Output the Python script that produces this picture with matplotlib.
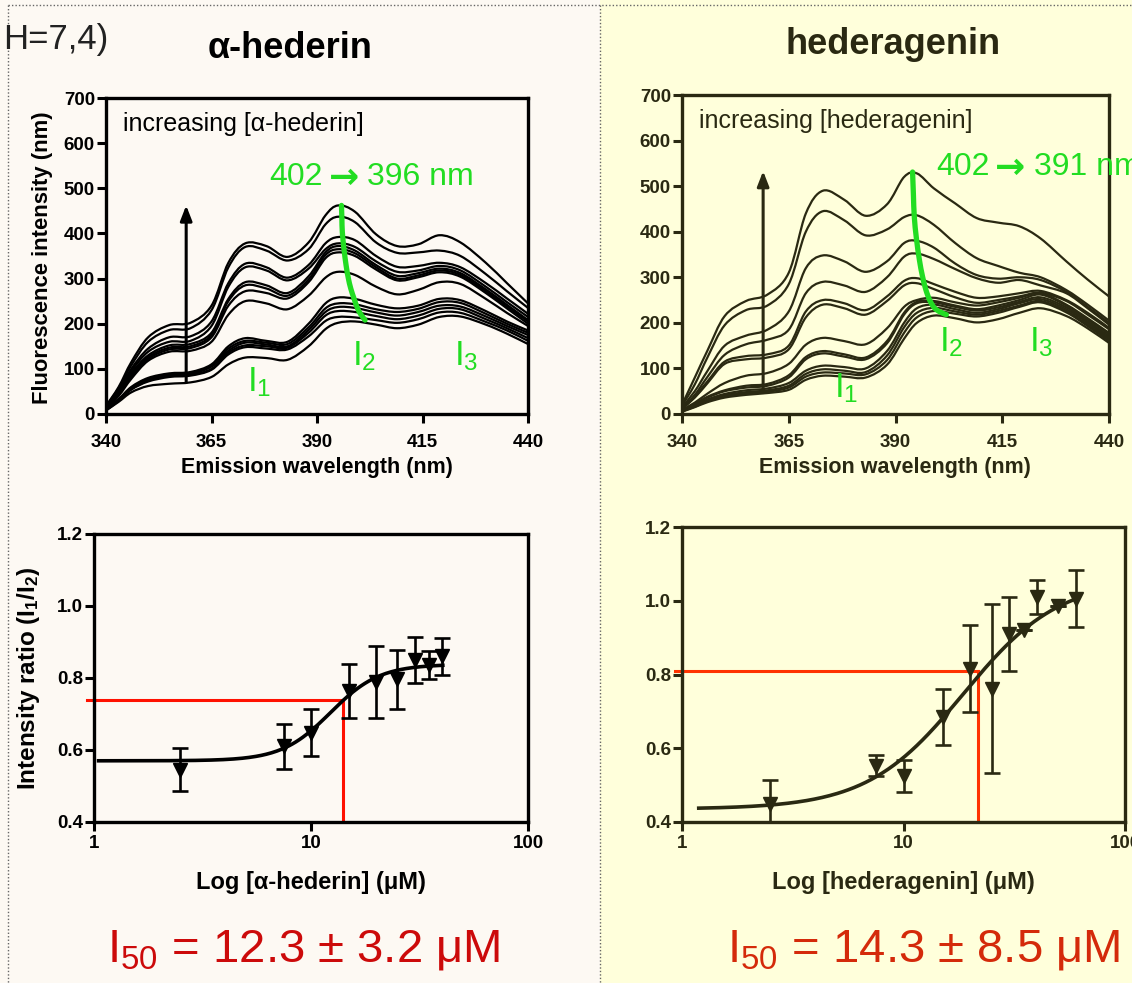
import numpy as np
import matplotlib
matplotlib.use("Agg")
import matplotlib.pyplot as plt
from matplotlib.patches import Rectangle, PathPatch
from matplotlib.lines import Line2D
from matplotlib.path import Path

plt.rcParams['font.family'] = ['Liberation Sans', 'DejaVu Sans']
plt.rcParams['mathtext.fontset'] = 'custom'
plt.rcParams['mathtext.rm'] = 'Liberation Sans'
plt.rcParams['mathtext.it'] = 'Liberation Sans:italic'
plt.rcParams['mathtext.bf'] = 'Liberation Sans:bold'

# ---------------------------------------------------------------- data
wavelength_nm = [340, 343, 346, 350, 355, 360, 365, 369, 373, 378, 383, 388,
                 392, 395, 399, 404, 409, 414, 419, 424, 430, 435, 440]

# pyrene emission spectra with increasing alpha-hederin
ahederin_spectra = [
    [18, 60, 115, 170, 197, 202, 240, 335, 378, 372, 348, 380, 440, 462, 448, 398, 372, 376, 396, 380, 335, 290, 245],
    [17, 57, 108, 160, 186, 190, 230, 325, 370, 362, 340, 365, 420, 437, 425, 380, 357, 358, 362, 350, 310, 272, 235],
    [16, 52, 100, 145, 170, 172, 205, 290, 333, 325, 302, 330, 378, 392, 385, 350, 326, 328, 335, 325, 290, 256, 222],
    [15, 50, 95, 138, 160, 162, 195, 282, 325, 318, 296, 322, 365, 378, 370, 338, 315, 318, 328, 318, 282, 248, 215],
    [14, 47, 90, 130, 152, 155, 180, 255, 292, 285, 268, 305, 358, 372, 362, 330, 306, 312, 322, 312, 276, 242, 208],
    [14, 45, 86, 126, 147, 150, 175, 250, 285, 278, 262, 298, 352, 365, 356, 325, 300, 307, 318, 308, 272, 238, 205],
    [13, 43, 82, 122, 143, 146, 170, 240, 272, 268, 256, 292, 345, 358, 350, 320, 296, 303, 314, 304, 268, 234, 200],
    [12, 40, 78, 118, 138, 140, 160, 220, 250, 245, 232, 262, 302, 315, 308, 282, 265, 275, 292, 288, 255, 224, 195],
    [10, 33, 60, 80, 90, 93, 110, 150, 168, 162, 160, 200, 245, 258, 255, 242, 234, 240, 255, 252, 228, 205, 185],
    [10, 32, 58, 78, 88, 91, 108, 145, 162, 158, 155, 192, 234, 245, 243, 232, 226, 233, 248, 246, 222, 200, 180],
    [9, 31, 57, 76, 86, 89, 105, 140, 158, 154, 150, 186, 226, 237, 235, 225, 218, 226, 240, 238, 216, 195, 175],
    [9, 30, 55, 74, 84, 87, 100, 136, 152, 150, 147, 180, 218, 228, 226, 217, 210, 218, 233, 232, 210, 190, 168],
    [8, 29, 54, 72, 82, 85, 98, 132, 148, 145, 143, 172, 206, 215, 214, 208, 202, 210, 225, 224, 204, 185, 162],
    [8, 27, 48, 62, 67, 70, 82, 110, 125, 124, 120, 150, 188, 202, 205, 198, 190, 198, 215, 216, 198, 178, 155],
]

# pyrene emission spectra with increasing hederagenin
hederagenin_spectra = [
    [20, 80, 140, 215, 248, 262, 310, 440, 490, 470, 435, 460, 520, 528, 495, 462, 430, 420, 412, 385, 335, 295, 258],
    [18, 65, 125, 195, 228, 238, 285, 400, 445, 425, 392, 405, 432, 436, 415, 375, 342, 325, 310, 300, 272, 240, 205],
    [15, 50, 95, 150, 172, 185, 225, 320, 348, 335, 312, 335, 375, 380, 365, 330, 305, 297, 300, 294, 268, 235, 200],
    [13, 42, 82, 130, 153, 163, 185, 265, 290, 282, 268, 300, 345, 352, 340, 318, 298, 288, 294, 282, 265, 232, 196],
    [12, 38, 72, 115, 127, 131, 150, 225, 250, 243, 228, 258, 292, 298, 285, 268, 255, 258, 265, 270, 250, 222, 189],
    [11, 36, 68, 110, 120, 124, 142, 212, 240, 232, 218, 248, 282, 287, 274, 256, 244, 250, 258, 266, 248, 218, 186],
    [9, 25, 45, 68, 84, 90, 110, 152, 167, 160, 153, 188, 235, 250, 255, 245, 238, 245, 255, 265, 240, 210, 178],
    [8, 22, 38, 52, 62, 66, 85, 125, 138, 131, 124, 160, 222, 246, 248, 238, 230, 238, 250, 262, 238, 207, 175],
    [8, 21, 36, 50, 58, 62, 80, 120, 133, 126, 120, 155, 218, 243, 245, 235, 227, 234, 246, 256, 234, 203, 171],
    [7, 19, 32, 44, 52, 56, 68, 95, 106, 103, 100, 138, 200, 232, 240, 230, 222, 230, 243, 252, 230, 200, 167],
    [6, 17, 30, 41, 48, 52, 62, 88, 98, 95, 92, 128, 190, 222, 233, 225, 218, 226, 238, 248, 226, 196, 164],
    [6, 16, 28, 38, 45, 49, 58, 82, 91, 89, 87, 118, 178, 212, 226, 220, 214, 222, 235, 245, 223, 193, 160],
    [5, 15, 26, 36, 42, 46, 53, 75, 84, 82, 80, 108, 165, 200, 216, 210, 201, 208, 222, 232, 215, 188, 156],
]

# blue shift of the I2 band (wavelength, intensity)
ahederin_shift_wl = [395.8, 395.9, 396.0, 396.4, 396.9, 397.4, 398.0, 398.8, 399.6, 400.5, 401.4]
ahederin_shift_int = [462, 432, 403, 365, 329, 302, 278, 255, 234, 219, 208]
hederagenin_shift_wl = [394.0, 394.2, 394.4, 394.9, 395.6, 396.3, 397.1, 398.0, 399.1, 400.4, 401.9]
hederagenin_shift_int = [531, 480, 433, 385, 338, 303, 273, 250, 233, 224, 218]

# I1/I2 ratio vs. concentration (uM)
ahederin_conc = [2.5, 7.5, 10, 15, 20, 25, 30, 35, 40]
ahederin_ratio = [0.545, 0.610, 0.648, 0.765, 0.790, 0.796, 0.849, 0.836, 0.860]
ahederin_sd = [0.060, 0.063, 0.066, 0.075, 0.100, 0.081, 0.064, 0.040, 0.052]

hederagenin_conc = [2.5, 7.5, 10, 15, 20, 25, 30, 35, 40, 50, 60]
hederagenin_ratio = [0.450, 0.553, 0.525, 0.686, 0.816, 0.761, 0.910, 0.920, 1.010, 0.986, 1.006]
hederagenin_sd = [0.065, 0.028, 0.043, 0.076, 0.118, 0.229, 0.100, 0.000, 0.045, 0.000, 0.077]

# sigmoidal fits: bottom, top, log10(I50), Hill slope, fitted range
ahederin_fit = dict(bottom=0.570, top=0.838, log_i50=np.log10(12.3), slope=3.84, xmin=1.05, xmax=40.5)
hederagenin_fit = dict(bottom=0.435, top=1.060, log_i50=1.27, slope=2.0, xmin=1.19, xmax=60.0)

# I50 guide lines (x, y)
ahederin_guide = (14.0, 0.738)
hederagenin_guide = (21.6, 0.810)

# ---------------------------------------------------------------- figure
W, H = 1132, 983
fig = plt.figure(figsize=(W / 100, H / 100), dpi=100)
LEFT_BG = '#fdf9f3'
RIGHT_BG = '#ffffdb'
INK_R = '#2a2912'
GREEN = '#22dd22'
fig.patch.set_facecolor(LEFT_BG)
fig.add_artist(Rectangle((600 / W, 0), 1 - 600 / W, 1, transform=fig.transFigure,
                         facecolor=RIGHT_BG, edgecolor='none', zorder=-5))
for xs, ys in [([8, W], [5, 5]), ([8, 8], [5, H]), ([600, 600], [5, H])]:
    fig.add_artist(Line2D([x / W for x in xs], [1 - y / H for y in ys], transform=fig.transFigure,
                          color='#666666', lw=1.0, ls=(0, (1, 1.5)), zorder=-1))


def px_axes(x0, y0, x1, y1):
    return fig.add_axes([x0 / W, 1 - y1 / H, (x1 - x0) / W, (y1 - y0) / H])


def ftext(x, y, s, **kw):
    return fig.text(x / W, 1 - y / H, s, **kw)


def smooth_path(xs, ys):
    """Cubic (Catmull-Rom style) path passing through every given point."""
    p = np.column_stack([xs, ys]).astype(float)
    ext = np.vstack([p[0], p, p[-1]])
    verts = [p[0]]
    codes = [Path.MOVETO]
    for i in range(len(p) - 1):
        a, b, c, d = ext[i], ext[i + 1], ext[i + 2], ext[i + 3]
        verts += [b + (c - a) / 6.0, c - (d - b) / 6.0, c]
        codes += [Path.CURVE4] * 3
    return Path(verts, codes)


def smooth_line(ax, xs, ys, **kw):
    ax.add_patch(PathPatch(smooth_path(xs, ys), fill=False, **kw))


def style(ax, color, xpad, ypad=1.5):
    ax.set_facecolor('none')
    for s in ax.spines.values():
        s.set_linewidth(2.4)
        s.set_color(color)
    ax.tick_params(axis='both', which='major', direction='out', length=6.5, width=2.2,
                   color=color, labelcolor=color, labelsize=13.5)
    ax.tick_params(axis='x', pad=xpad)
    ax.tick_params(axis='y', pad=ypad)
    ax.tick_params(which='minor', length=0)


def spectra_panel(ax, spectra, color, shift_wl, shift_int, arrow, label, shift_from, shift_to,
                  shift_xy, ilabels):
    for row in spectra:
        smooth_line(ax, wavelength_nm, row, edgecolor=color, lw=1.6, joinstyle='round', zorder=2)
    smooth_line(ax, shift_wl, shift_int, edgecolor=GREEN, lw=3.8, capstyle='round', zorder=3)
    ax.annotate('', xy=(arrow[0], arrow[2]), xytext=(arrow[0], arrow[1]),
                arrowprops=dict(arrowstyle='-|>,head_length=0.9,head_width=0.35', lw=2.2,
                                color=color, shrinkA=0, shrinkB=0), zorder=4)
    ax.set_xlim(340, 440)
    ax.set_ylim(0, 700)
    ax.set_xticks([340, 365, 390, 415, 440])
    ax.set_xticklabels(['340', '365', '390', '415', '440'], fontweight='bold')
    ax.set_yticks(range(0, 701, 100))
    ax.set_yticklabels([str(v) for v in range(0, 701, 100)], fontweight='bold')
    style(ax, color, xpad=8)
    ax.text(344, 643, label, fontsize=18, color=color, va='center', ha='left')
    # "402 -> 396 nm": numbers in Arial-like face, arrow glyph from DejaVu
    t1 = ax.text(shift_xy[0], shift_xy[1], shift_from, fontsize=23, color=GREEN,
                 va='center', ha='left', clip_on=False)
    t2 = ax.annotate('→', xy=(1, 0.5), xycoords=t1, xytext=(4, -1), textcoords='offset points',
                     fontsize=26, family='DejaVu Sans', fontweight='bold', color=GREEN,
                     va='center', ha='left')
    ax.annotate(shift_to, xy=(1, 0.5), xycoords=(t2, t1), xytext=(6, 0), textcoords='offset points',
                fontsize=23, color=GREEN, va='center', ha='left')
    for (x, y), s in zip(ilabels, ['1', '2', '3']):
        ax.text(x, y, r'$\mathregular{I_%s}$' % s, fontsize=25, color=GREEN, va='baseline', ha='left')


def ratio_panel(ax, conc, ratio, sd, fit, guide, color, red):
    xs = np.logspace(np.log10(fit['xmin']), np.log10(fit['xmax']), 200)
    ys = fit['bottom'] + (fit['top'] - fit['bottom']) / (1 + 10 ** ((fit['log_i50'] - np.log10(xs)) * fit['slope']))
    ax.plot([0.93, guide[0]], [guide[1], guide[1]], color=red, lw=2.2, clip_on=False, zorder=1)
    ax.plot([guide[0], guide[0]], [0.4, guide[1]], color=red, lw=2.2, zorder=1)
    ax.plot(xs, ys, color=color, lw=2.6, zorder=2)
    ax.errorbar(conc, ratio, yerr=sd, fmt='v', ms=10, color=color, ecolor=color,
                elinewidth=1.9, capsize=5.5, capthick=1.9, zorder=3)
    ax.set_xscale('log')
    ax.set_xlim(1, 100)
    ax.set_ylim(0.4, 1.2)
    ax.set_xticks([1, 10, 100])
    ax.set_xticklabels(['1', '10', '100'], fontweight='bold')
    ax.set_yticks([0.4, 0.6, 0.8, 1.0, 1.2])
    ax.set_yticklabels(['0.4', '0.6', '0.8', '1.0', '1.2'], fontweight='bold')
    style(ax, color, xpad=3)


# ---- alpha-hederin
ax1 = px_axes(106, 98, 528, 414)
spectra_panel(ax1, ahederin_spectra, 'black', ahederin_shift_wl, ahederin_shift_int,
              (359, 70, 462), 'increasing [α-hederin]', '402', '396 nm', (378.8, 525),
              [(373.3, 50), (398.4, 108), (422.4, 108)])
ax2 = px_axes(94, 534, 528, 822)
ratio_panel(ax2, ahederin_conc, ahederin_ratio, ahederin_sd, ahederin_fit, ahederin_guide,
            'black', '#ff1100')

# ---- hederagenin
ax3 = px_axes(682, 95, 1109, 414)
spectra_panel(ax3, hederagenin_spectra, INK_R, hederagenin_shift_wl, hederagenin_shift_int,
              (359, 47, 533), 'increasing [hederagenin]', '402', '391 nm', (399.5, 542),
              [(375.5, 36), (400.2, 138), (421.2, 138)])
ax4 = px_axes(682, 527, 1125, 822)
ratio_panel(ax4, hederagenin_conc, hederagenin_ratio, hederagenin_sd, hederagenin_fit,
            hederagenin_guide, INK_R, '#ff3300')

# ---- titles and labels
ftext(3, 40, 'H=7,4)', fontsize=25, color='#222222', ha='left', va='center')
ftext(290, 48, 'α-hederin', fontsize=26, fontweight='bold', color='black', ha='center', va='center')
ftext(893, 45, 'hederagenin', fontsize=26, fontweight='bold', color=INK_R, ha='center', va='center')

ftext(317, 468, 'Emission wavelength (nm)', fontsize=15.5, fontweight='bold', color='black',
      ha='center', va='center')
ftext(895, 468, 'Emission wavelength (nm)', fontsize=15.5, fontweight='bold', color=INK_R,
      ha='center', va='center')
ftext(43, 258, 'Fluorescence intensity (nm)', fontsize=15.8, fontweight='bold', color='black',
      ha='center', va='center', rotation=90)
ftext(29, 678, r'Intensity ratio (I$_\mathbf{1}$/I$_\mathbf{2}$)', fontsize=17.5, fontweight='bold',
      color='black', ha='center', va='center', rotation=90)
ftext(311, 883, 'Log [α-hederin] (μM)', fontsize=17, fontweight='bold', color='black',
      ha='center', va='center')
ftext(903, 883, 'Log [hederagenin] (μM)', fontsize=17, fontweight='bold', color=INK_R,
      ha='center', va='center')

ftext(107, 950, r'$\mathregular{I_{50}}$ = 12.3 ± 3.2 μM', fontsize=34, color='#cc0a0a',
      ha='left', va='center')
ftext(727, 950, r'$\mathregular{I_{50}}$ = 14.3 ± 8.5 μM', fontsize=34, color='#d42a0a',
      ha='left', va='center')

fig.savefig('out.png', dpi=100, facecolor=fig.get_facecolor())
